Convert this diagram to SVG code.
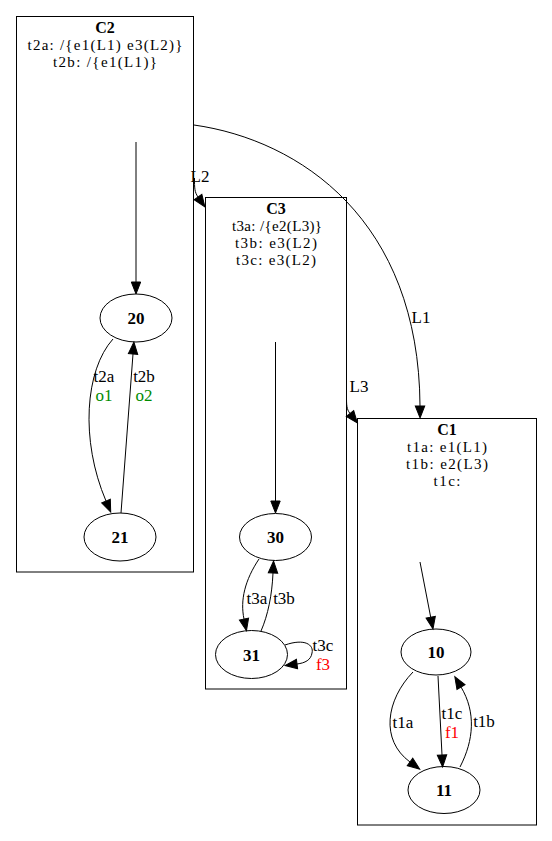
<svg xmlns="http://www.w3.org/2000/svg" width="552" height="841" viewBox="0 0 552 841">
  <style>
    text { font-family: "Liberation Serif", "Times New Roman", serif; font-size: 17px; fill: #000; text-anchor: middle; }
    .title, .nl { font-weight: bold; }
    .cap { font-size: 15px; }
    .title { font-size: 16px; }
    .cl { fill: #fff; stroke: #000; stroke-width: 1; }
    .nd { fill: #fff; stroke: #000; stroke-width: 1; }
    .e { fill: none; stroke: #000; stroke-width: 1; marker-end: url(#arr); }
    .g { fill: #008b00; }
    .r { fill: #ff0000; }
  </style>
  <defs>
    <marker id="arr" markerUnits="userSpaceOnUse" markerWidth="14" markerHeight="12" refX="0" refY="5" orient="auto" overflow="visible">
      <path d="M0,0.3 L12,5 L0,9.7 z" fill="#000" stroke="#000" stroke-width="1"/>
    </marker>
  </defs>
  <rect width="552" height="841" fill="#fff"/>

  <!-- cluster C2 -->
  <g id="C2">
    <rect class="cl" x="16.5" y="16.5" width="177" height="555.5"/>
    <text class="title" x="105" y="33">C2</text>
    <text class="cap" x="105" y="50" textLength="155" lengthAdjust="spacing">t2a: /{e1(L1) e3(L2)}</text>
    <text class="cap" x="105" y="67" textLength="104" lengthAdjust="spacing">t2b: /{e1(L1)}</text>
  </g>
  <!-- cluster C3 -->
  <g id="C3">
    <rect class="cl" x="205.5" y="197.5" width="141" height="491.5"/>
    <text class="title" x="276" y="214">C3</text>
    <text class="cap" x="277" y="231" textLength="90" lengthAdjust="spacing">t3a: /{e2(L3)}</text>
    <text class="cap" x="276" y="248" textLength="82" lengthAdjust="spacing">t3b: e3(L2)</text>
    <text class="cap" x="276" y="265" textLength="80" lengthAdjust="spacing">t3c: e3(L2)</text>
  </g>
  <!-- cluster C1 -->
  <g id="C1">
    <rect class="cl" x="357.5" y="418.5" width="179" height="406.5"/>
    <text class="title" x="447" y="435">C1</text>
    <text class="cap" x="447" y="452" textLength="80" lengthAdjust="spacing">t1a: e1(L1)</text>
    <text class="cap" x="447" y="469" textLength="82" lengthAdjust="spacing">t1b: e2(L3)</text>
    <text class="cap" x="447" y="486" textLength="27" lengthAdjust="spacing">t1c:</text>
  </g>

  <!-- states -->
  <g id="n20"><ellipse class="nd" cx="136" cy="318" rx="36" ry="24"/><text class="nl" x="136" y="324">20</text></g>
  <g id="n21"><ellipse class="nd" cx="120" cy="537" rx="36" ry="24"/><text class="nl" x="120" y="543">21</text></g>
  <g id="n30"><ellipse class="nd" cx="275.5" cy="537" rx="36" ry="23.5"/><text class="nl" x="275.5" y="543">30</text></g>
  <g id="n31"><ellipse class="nd" cx="251.5" cy="654.5" rx="36" ry="24"/><text class="nl" x="251.5" y="660.5">31</text></g>
  <g id="n10"><ellipse class="nd" cx="436" cy="652" rx="35" ry="23"/><text class="nl" x="436" y="658">10</text></g>
  <g id="n11"><ellipse class="nd" cx="444" cy="790" rx="36" ry="23.5"/><text class="nl" x="444" y="796">11</text></g>

  <!-- connectors -->
  <g id="edges">
    <!-- initial transitions -->
    <path class="e" d="M136,142 L136,282"/>
    <path class="e" d="M275.5,342 L275.5,501"/>
    <path class="e" d="M420,562 L430.7,617.2"/>

    <!-- C2 internal -->
    <path class="e" d="M113,339 C85,370 80,440 106,501"/>
    <path class="e" d="M121,513 L133,354"/>
    <!-- C3 internal -->
    <path class="e" d="M259,559 C245,580 240,600 244,619"/>
    <path class="e" d="M261,631 C268,615 272,595 273,573"/>
    <path class="e" d="M285,645 C305,638 314,645 312,653 C311,660 305,663 297,664"/>
    <!-- C1 internal -->
    <path class="e" d="M413,672 C386,700 380,740 410,762"/>
    <path class="e" d="M438,676 L442,755"/>
    <path class="e" d="M460,767 C474,740 476,712 461,687"/>

    <!-- between clusters -->
    <path class="e" d="M194,125 C300,140 419,220 420,406"/>
    <path class="e" d="M194.5,178 C194.5,188 194.5,192 198,197"/>
    <path class="e" d="M346.5,396 C346.5,405 346.5,409 350,413.5"/>
  </g>

  <!-- connector labels -->
  <g id="labels">
    <text x="104" y="382">t2a</text>
    <text class="g" x="104" y="401">o1</text>
    <text x="144" y="382">t2b</text>
    <text class="g" x="144" y="401">o2</text>
    <text x="257" y="604">t3a</text>
    <text x="284" y="604">t3b</text>
    <text x="323" y="651">t3c</text>
    <text class="r" x="323" y="670">f3</text>
    <text x="403" y="728">t1a</text>
    <text x="452" y="719">t1c</text>
    <text class="r" x="452" y="738">f1</text>
    <text x="484" y="727">t1b</text>
    <text x="421" y="323">L1</text>
    <text x="200" y="182">L2</text>
    <text x="359" y="392">L3</text>
  </g>
</svg>
